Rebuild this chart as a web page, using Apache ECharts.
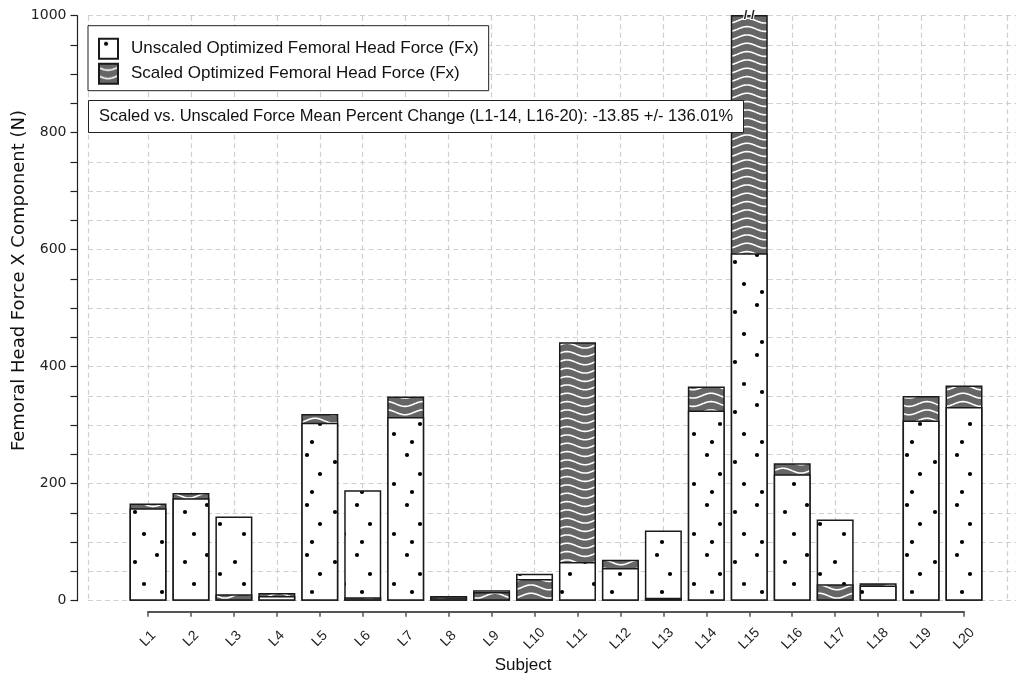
<!DOCTYPE html>
<html>
<head>
<meta charset="utf-8">
<script src="https://cdn.jsdelivr.net/npm/echarts@6.0.0/dist/echarts.min.js"></script>
<style>html,body{margin:0;padding:0;background:#fff}#c{width:1016px;height:675px}</style>
</head>
<body>
<div id="c"></div>
<script>
// ---- data ----
const categories = ['L1','L2','L3','L4','L5','L6','L7','L8','L9','L10','L11','L12','L13','L14','L15','L16','L17','L18','L19','L20'];
const unscaled = [158,175,144,8,304,189,314,8,18,46,66,56,120,325,594,216,139,26,308,331];
const scaled   = [166,184,11,13,319,6,349,6,15,37,442,70,5,366,1150,235,28,30,350,368];
const yTickLabels = [0,200,400,600,800,1000];
const seriesNames = ['Unscaled Optimized Femoral Head Force (Fx)','Scaled Optimized Femoral Head Force (Fx)'];
const annotationText = 'Scaled vs. Unscaled Force Mean Percent Change (L1-14, L16-20): -13.85 +/- 136.01%';
const xTitle = 'Subject';
const yTitle = 'Femoral Head Force X Component (N)';

// ---- layout / style ----
const W = 1016, H = 675;
const PLOT_L = 88, PLOT_T = 15.7, PLOT_B = 600.7;
const X_FIRST = 148, X_LAST = 964;
const Y_MIN = 0, Y_MAX = 1000, Y_STEP = 50;
const FONT = '"Liberation Sans", Arial, sans-serif';
const FONT2 = '"DejaVu Sans", sans-serif';
const n = categories.length;
const step = (X_LAST - X_FIRST) / (n - 1);
const barXMin = 1 - (X_FIRST - PLOT_L) / step;
const barXMax = 1 + (W - X_FIRST) / step;

function dotPattern() {
  const c = document.createElement('canvas');
  c.width = 50; c.height = 50;
  const g = c.getContext('2d');
  g.fillStyle = '#ffffff'; g.fillRect(0, 0, 50, 50);
  g.fillStyle = '#000000';
  [[7,5],[35,12],[20,24],[44,34],[12,42]].forEach(([x, y]) => {
    g.beginPath(); g.arc(x, y, 2.1, 0, Math.PI * 2); g.fill();
  });
  return c;
}
function wavePattern() {
  const c = document.createElement('canvas');
  const w = 36, h = 25;
  c.width = w; c.height = h;
  const g = c.getContext('2d');
  g.fillStyle = '#666666'; g.fillRect(0, 0, w, h);
  g.strokeStyle = '#ffffff'; g.lineWidth = 1.6;
  for (let k = -1; k <= 3; k++) {
    const base = 4 + k * (h / 3);
    g.beginPath();
    for (let x = 0; x <= w; x += 0.5) {
      const y = base + 2.4 * Math.sin(2 * Math.PI * x / w);
      if (x === 0) g.moveTo(x, y); else g.lineTo(x, y);
    }
    g.stroke();
  }
  return c;
}
const dotFill = { image: dotPattern(), repeat: 'repeat' };
const waveFill = { image: wavePattern(), repeat: 'repeat' };

function item(x, v) {
  if (v > Y_MAX) {
    return {
      value: [x, v],
      label: {
        show: true, formatter: '/ /', position: ['50%', 0], align: 'center', verticalAlign: 'middle',
        fontSize: 13, fontWeight: 'bold', color: '#222', textBorderColor: '#fff', textBorderWidth: 2
      }
    };
  }
  return [x, v];
}
const backU = [], backS = [], frontU = [], frontS = [];
for (let i = 0; i < n; i++) {
  const x = i + 1;
  if (unscaled[i] >= scaled[i]) { backU.push(item(x, unscaled[i])); frontS.push(item(x, scaled[i])); }
  else { backS.push(item(x, scaled[i])); frontU.push(item(x, unscaled[i])); }
}
function barSeries(name, data, fill) {
  return {
    type: 'bar', name, data, xAxisIndex: 1, yAxisIndex: 0,
    barWidth: 37, barGap: '-100%', clip: true,
    itemStyle: { color: fill, borderColor: '#1a1a1a', borderWidth: 1.5 },
    emphasis: { disabled: true }
  };
}
const dash = { color: '#cfcfcf', type: [5, 3.5], width: 1.2 };

const chart = echarts.init(document.getElementById('c'), null, { renderer: 'canvas' });
chart.setOption({
  animation: false,
  backgroundColor: '#ffffff',
  textStyle: { fontFamily: FONT },
  grid: [
    { left: PLOT_L, right: 0, top: PLOT_T, bottom: H - PLOT_B },
    { left: X_FIRST, right: W - (X_LAST + step), top: PLOT_T, bottom: H - PLOT_B },
    { left: X_FIRST, right: W - X_LAST, top: PLOT_T, bottom: H - PLOT_B }
  ],
  xAxis: [
    { gridIndex: 0, type: 'value', min: 0, max: 1, interval: 1, position: 'bottom',
      axisLine: { show: false, onZero: false }, axisTick: { show: false }, axisLabel: { show: false },
      splitLine: { show: true, lineStyle: dash } },
    { gridIndex: 0, type: 'value', min: barXMin, max: barXMax, position: 'top',
      axisLine: { show: false, onZero: false }, axisTick: { show: false }, axisLabel: { show: false },
      splitLine: { show: false } },
    { gridIndex: 1, type: 'value', min: 1, max: n + 1, interval: 1,
      axisLine: { show: false, onZero: false }, axisTick: { show: false }, axisLabel: { show: false },
      splitLine: { show: true, lineStyle: dash } },
    { gridIndex: 2, type: 'value', min: 1, max: n, interval: 1, offset: 11, position: 'bottom',
      axisLine: { show: true, onZero: false, lineStyle: { color: '#555', width: 2 } },
      axisTick: { show: true, length: 5, lineStyle: { color: '#555', width: 1.5 } },
      axisLabel: { show: true, rotate: 45, align: 'center', verticalAlign: 'middle', margin: 27,
        fontSize: 14, color: '#222', fontFamily: FONT,
        formatter: v => categories[Math.round(v) - 1] || '' },
      splitLine: { show: false } }
  ],
  yAxis: [
    { gridIndex: 0, type: 'value', min: Y_MIN, max: Y_MAX, interval: Y_STEP, offset: 11, position: 'left',
      axisLine: { show: true, onZero: false, lineStyle: { color: '#222', width: 1.2 } },
      axisTick: { show: true, length: 6.5, lineStyle: { color: '#222', width: 1.2 } },
      axisLabel: { show: true, margin: 10.5, fontSize: 14, color: '#222', fontFamily: FONT2,
        formatter: v => yTickLabels.indexOf(v) >= 0 ? String(v) : '' },
      splitLine: { show: true, lineStyle: dash } },
    { gridIndex: 1, type: 'value', min: Y_MIN, max: Y_MAX, show: false, splitLine: { show: false } },
    { gridIndex: 2, type: 'value', min: Y_MIN, max: Y_MAX, show: false, splitLine: { show: false } }
  ],
  legend: {
    orient: 'vertical', left: PLOT_L, top: 25.7,
    padding: [12, 10, 6, 10], itemGap: 3, itemWidth: 19, itemHeight: 20,
    backgroundColor: '#fff', borderColor: '#222', borderWidth: 1, borderRadius: 0,
    icon: 'rect',
    textStyle: { fontSize: 17, lineHeight: 20, color: '#111', fontFamily: FONT, padding: [0, 0, 0, 8] },
    data: seriesNames,
    selectedMode: false
  },
  title: {
    text: annotationText, left: PLOT_L, top: 100,
    padding: [8, 11, 8, 11],
    backgroundColor: '#fff', borderColor: '#222', borderWidth: 1,
    textStyle: { fontSize: 16.5, fontWeight: 'normal', color: '#111', fontFamily: FONT }
  },
  graphic: [
    { type: 'text', x: 523, y: 665, style: { text: xTitle, textAlign: 'center', textVerticalAlign: 'middle',
        font: '17px ' + FONT, fill: '#111' } },
    { type: 'text', x: 19, y: 280.5, rotation: Math.PI / 2, style: { text: yTitle, textAlign: 'center',
        textVerticalAlign: 'middle', font: '18px ' + FONT2, fill: '#111' } }
  ],
  series: [
    barSeries(seriesNames[0], backU, dotFill),
    barSeries(seriesNames[1], backS, waveFill),
    barSeries(seriesNames[0], frontU, dotFill),
    barSeries(seriesNames[1], frontS, waveFill)
  ]
});
</script>
</body>
</html>
